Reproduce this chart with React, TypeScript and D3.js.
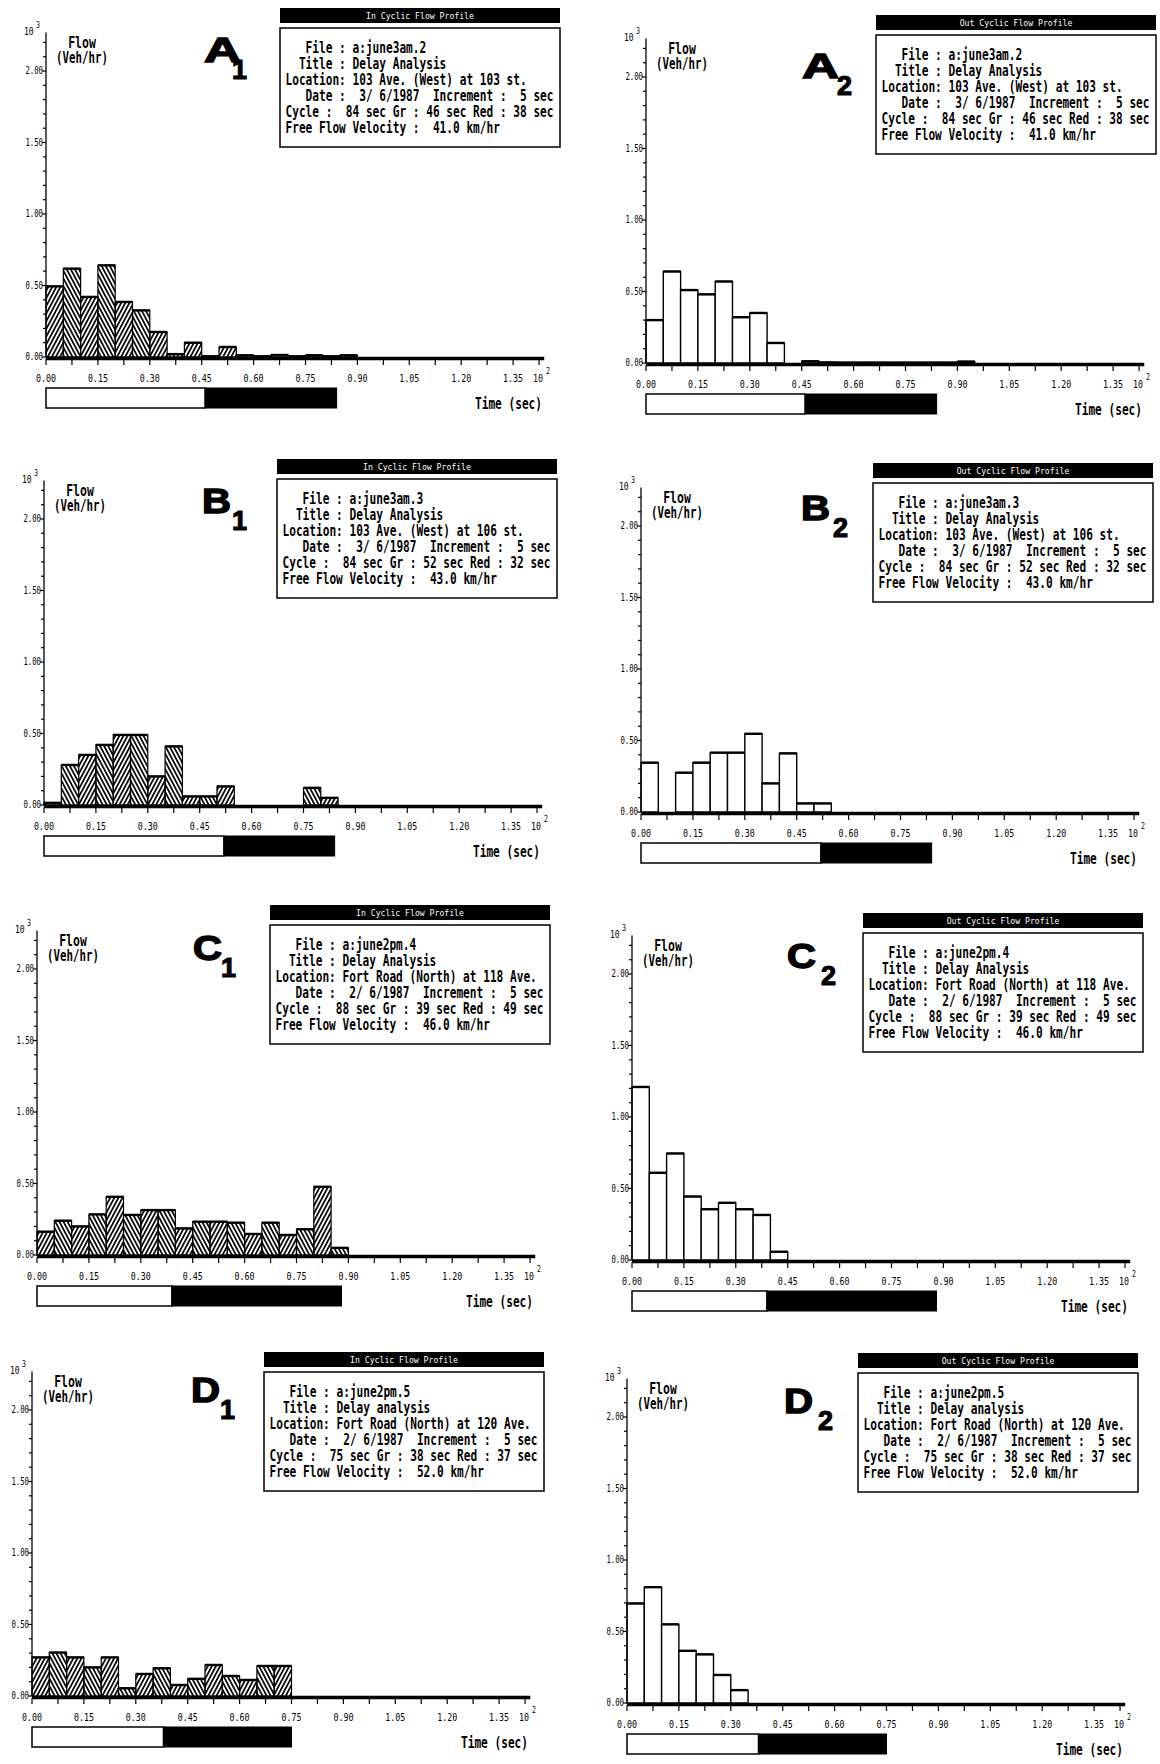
import React from 'react';
import * as d3 from 'd3';

// ---------------- data ----------------
const BIN = 0.05; // 5 sec bins, in units of 10^2 sec
const A1_in = [0.494, 0.618, 0.42, 0.641, 0.385, 0.326, 0.175, 0.02, 0.1, 0.005, 0.07, 0.012, 0.005, 0.014, 0.005, 0.012, 0.005, 0.012];
const A2_out = [0.3, 0.64, 0.51, 0.48, 0.57, 0.32, 0.35, 0.14, 0, 0.012, 0.004, 0.003, 0.003, 0.003, 0.003, 0.003, 0.003, 0.003, 0.01];
const B1_in = [0.015, 0.28, 0.35, 0.42, 0.49, 0.49, 0.2, 0.41, 0.06, 0.06, 0.13, 0, 0, 0, 0, 0.12, 0.05];
const B2_out = [0.345, 0, 0.275, 0.345, 0.415, 0.415, 0.547, 0.2, 0.41, 0.06, 0.06];
const C1_in = [0.163, 0.24, 0.2, 0.284, 0.407, 0.28, 0.314, 0.314, 0.186, 0.233, 0.233, 0.226, 0.147, 0.226, 0.14, 0.18, 0.477, 0.05];
const C2_out = [1.21, 0.61, 0.745, 0.444, 0.355, 0.4, 0.355, 0.315, 0.058];
const D1_in = [0.27, 0.304, 0.27, 0.2, 0.27, 0.054, 0.154, 0.194, 0.077, 0.12, 0.217, 0.14, 0.112, 0.21, 0.21];
const D2_out = [0.696, 0.81, 0.55, 0.365, 0.34, 0.196, 0.09];

const files = ['a:june3am.2', 'a:june3am.3', 'a:june2pm.4', 'a:june2pm.5'];
const titles = ['Delay Analysis', 'Delay Analysis', 'Delay Analysis', 'Delay analysis'];
const locations = ['103 Ave. (West) at 103 st.', '103 Ave. (West) at 106 st.', 'Fort Road (North) at 118 Ave.', 'Fort Road (North) at 120 Ave.'];
const dates = ['3/ 6/1987', '3/ 6/1987', '2/ 6/1987', '2/ 6/1987'];
const cycles = [84, 84, 88, 75];
const greens = [46, 52, 39, 38];
const reds = [38, 32, 49, 37];
const velocities = ['41.0', '43.0', '46.0', '52.0'];
const increment = 5;
const letters = ['A', 'B', 'C', 'D'];

const xTickLabels = ['0.00', '0.15', '0.30', '0.45', '0.60', '0.75', '0.90', '1.05', '1.20', '1.35'];
const yTickLabels = ['0.00', '0.50', '1.00', '1.50', '2.00'];

// ---------------- layout ----------------
const XU = 346; // px per 1.0 (x 10^2 sec)
const YU = 143; // px per 1.0 (x 10^3 veh/hr)
const XMAX = 1.44;
const YMAX = 2.27;
const MONO = "'DejaVu Sans Mono', 'Liberation Mono', monospace";
const SANS = "'Liberation Sans', Arial, sans-serif";

const layout = [
  { ox: 46, oy: 357, boxDx: 234, titleDy: -349, letterDx: 158, letterDy: -295, subDx: 28 },
  { ox: 646, oy: 363, boxDx: 230, titleDy: -348, letterDx: 156, letterDy: -285, subDx: 35 },
  { ox: 44, oy: 805, boxDx: 233, titleDy: -346, letterDx: 158, letterDy: -292, subDx: 30 },
  { ox: 641, oy: 812, boxDx: 232, titleDy: -349, letterDx: 160, letterDy: -292, subDx: 32 },
  { ox: 37, oy: 1255, boxDx: 233, titleDy: -350, letterDx: 156, letterDy: -295, subDx: 28 },
  { ox: 632, oy: 1260, boxDx: 231, titleDy: -347, letterDx: 155, letterDy: -292, subDx: 34 },
  { ox: 32, oy: 1696, boxDx: 232, titleDy: -344, letterDx: 159, letterDy: -294, subDx: 29 },
  { ox: 627, oy: 1703, boxDx: 231, titleDy: -350, letterDx: 157, letterDy: -290, subDx: 34 },
];

const seriesList = [A1_in, A2_out, B1_in, B2_out, C1_in, C2_out, D1_in, D2_out];

function MonoText({ x, y, text, cw, size, anchor = 'start', fill = '#000', weight = 'bold' }) {
  return (
    <text
      x={x}
      y={y}
      fontFamily={MONO}
      fontSize={size}
      fontWeight={weight}
      fill={fill}
      textAnchor={anchor}
      textLength={text.length * cw}
      lengthAdjust="spacingAndGlyphs"
      style={{ whiteSpace: 'pre' }}
    >
      {text}
    </text>
  );
}

function Panel({ idx }) {
  const L = layout[idx];
  const g = Math.floor(idx / 2);
  const kind = idx % 2 === 0 ? 'in' : 'out';
  const values = seriesList[idx];
  const { ox, oy } = L;

  const x = d3.scaleLinear().domain([0, XMAX]).range([ox, ox + XMAX * XU]);
  const y = d3.scaleLinear().domain([0, YMAX]).range([oy, oy - YMAX * YU]);

  const xTicks = d3.range(0, 20).map((i) => i * 0.075).filter((v) => v <= XMAX);
  const yMinor = d3.range(0, 23).map((i) => i * 0.1);

  const bx = ox + L.boxDx;
  const ty = oy + L.titleDy;
  const boxW = 280;

  const lines = [
    `   File : ${files[g]}`,
    `  Title : ${titles[g]}`,
    `Location: ${locations[g]}`,
    `   Date :  ${dates[g]}  Increment :  ${increment} sec`,
    `Cycle :  ${cycles[g]} sec Gr : ${greens[g]} sec Red : ${reds[g]} sec`,
    `Free Flow Velocity :  ${velocities[g]} km/hr`,
  ];

  const letter = letters[g];
  const sub = String((idx % 2) + 1);

  return (
    <g>
      {/* bars */}
      {values.map((v, i) => {
        if (v <= 0) return null;
        const x0 = x(i * BIN);
        const x1 = x((i + 1) * BIN);
        const yt = y(v);
        return (
          <g key={i}>
            <rect
              x={x0}
              y={yt}
              width={x1 - x0}
              height={oy - yt}
              fill={kind === 'in' ? `url(#${i % 2 === 0 ? 'hatchR' : 'hatchL'})` : '#fff'}
              stroke="#000"
              strokeWidth={kind === 'in' ? 1.2 : 1.4}
            />
            <line x1={x0} x2={x1} y1={yt} y2={yt} stroke="#000" strokeWidth={2.4} />
          </g>
        );
      })}

      {/* y axis */}
      <line x1={ox} x2={ox} y1={oy} y2={y(YMAX)} stroke="#000" strokeWidth={1.3} />
      {yMinor.map((v, i) => (
        <line key={i} x1={ox - (i % 5 === 0 ? 4 : 3)} x2={ox} y1={y(v)} y2={y(v)} stroke="#000" strokeWidth={1.2} />
      ))}
      {yTickLabels.map((t, i) => (
        <MonoText key={t} x={ox - 3} y={y(i * 0.5) + 3} text={t} cw={4.4} size={10} anchor="end" weight="normal" />
      ))}
      <MonoText x={ox - 22} y={oy - 322} text="10" cw={4.8} size={10} weight="normal" />
      <MonoText x={ox - 10} y={oy - 329} text="3" cw={4} size={8} weight="normal" />

      {/* x axis */}
      <line x1={x(0)} x2={x(XMAX)} y1={oy + 1.5} y2={oy + 1.5} stroke="#000" strokeWidth={3.5} />
      {xTicks.map((v, i) => (
        <line key={i} x1={x(v)} x2={x(v)} y1={oy + 2} y2={oy + 8} stroke="#000" strokeWidth={1.2} />
      ))}
      {xTickLabels.map((t, i) => (
        <MonoText key={t} x={x(i * 0.15)} y={oy + 25} text={t} cw={5.0} size={11} anchor="middle" weight="normal" />
      ))}
      <MonoText x={ox + 487} y={oy + 25} text="10" cw={5.0} size={11} weight="normal" />
      <MonoText x={ox + 500} y={oy + 17} text="2" cw={4} size={8} weight="normal" />

      {/* axis titles */}
      <MonoText x={ox + 36} y={oy - 309} text="Flow" cw={6.9} size={15} anchor="middle" />
      <MonoText x={ox + 36} y={oy - 294} text="(Veh/hr)" cw={6.5} size={15} anchor="middle" />
      <MonoText x={ox + 496} y={oy + 52} text="Time (sec)" cw={6.7} size={15} anchor="end" />

      {/* signal bar: green (white) then red (black) */}
      <rect x={x(0)} y={oy + 31} width={x(greens[g] / 100) - x(0)} height={20} fill="#fff" stroke="#000" strokeWidth={1.5} />
      <rect x={x(greens[g] / 100)} y={oy + 31} width={x(cycles[g] / 100) - x(greens[g] / 100)} height={20} fill="#000" stroke="#000" strokeWidth={1} />

      {/* panel letter */}
      <text
        x={ox + L.letterDx}
        y={oy + L.letterDy}
        fontFamily={SANS}
        fontWeight="bold"
        fontSize={35}
        stroke="#000"
        strokeWidth={1.4}
        textLength={letter === 'A' ? 37 : 29}
        lengthAdjust="spacingAndGlyphs"
      >
        {letter}
      </text>
      <text
        x={ox + L.letterDx + L.subDx}
        y={oy + L.letterDy + 17}
        fontFamily={SANS}
        fontWeight="bold"
        fontSize={27}
        stroke="#000"
        strokeWidth={1.1}
      >
        {sub}
      </text>

      {/* info box */}
      <rect x={bx} y={ty} width={boxW} height={15} fill="#000" />
      <MonoText
        x={bx + boxW / 2}
        y={ty + 11}
        text={kind === 'in' ? 'In Cyclic Flow Profile' : 'Out Cyclic Flow Profile'}
        cw={4.9}
        size={9}
        anchor="middle"
        fill="#fff"
        weight="normal"
      />
      <rect x={bx} y={ty + 20} width={boxW} height={119} fill="#fff" stroke="#000" strokeWidth={1.5} />
      {lines.map((ln, i) => (
        <MonoText key={i} x={bx + 5.5} y={ty + 45 + i * 16} text={ln} cw={6.7} size={16} />
      ))}
    </g>
  );
}

export default function App() {
  return (
    <svg
      width={1160}
      height={1764}
      viewBox="0 0 1160 1764"
      style={{ position: 'absolute', left: 0, top: 0, background: '#fff' }}
    >
      <defs>
        <pattern id="hatchR" patternUnits="userSpaceOnUse" width={3.6} height={10} patternTransform="rotate(28)">
          <rect x={0} y={0} width={1.7} height={10} fill="#000" />
        </pattern>
        <pattern id="hatchL" patternUnits="userSpaceOnUse" width={3.6} height={10} patternTransform="rotate(-28)">
          <rect x={0} y={0} width={1.7} height={10} fill="#000" />
        </pattern>
      </defs>
      <rect x={0} y={0} width={1160} height={1764} fill="#fff" />
      {layout.map((_, i) => (
        <Panel key={i} idx={i} />
      ))}
    </svg>
  );
}
